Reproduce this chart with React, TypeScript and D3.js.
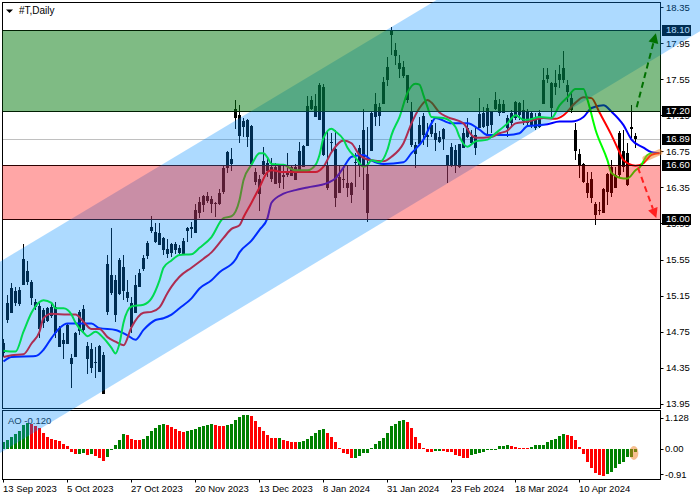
import { useEffect, useRef } from "react";
import * as d3 from "d3";

const opens = [
    14.52, 14.89, 14.97, 15.20, 15.07, 15.28, 15.42, 15.30, 15.03, 14.79,
    14.99, 14.88, 14.93, 15.02, 14.59, 14.62, 14.62, 14.40, 14.48, 14.77,
    15.00, 14.59, 14.56, 14.41, 14.31, 14.49, 15.50, 15.19, 15.32, 15.18,
    15.47, 15.19, 15.07, 14.97, 15.26, 15.46, 15.60, 15.91, 15.86, 15.72,
    15.79, 15.67, 15.72, 15.72, 15.68, 15.62, 15.90, 15.91, 15.86, 16.08,
    16.25, 16.25, 16.18, 16.18, 16.18, 16.31, 16.58, 16.62, 17.13, 17.15,
    17.03, 17.10, 17.03, 16.52, 16.29, 16.51, 16.54, 16.58, 16.40, 16.60,
    16.49, 16.50, 16.49, 16.44, 16.52, 16.59, 16.82, 17.32, 17.25, 17.11,
    17.46, 16.60, 16.85, 16.78, 16.30, 16.44, 16.35, 16.28, 16.63, 16.60,
    16.99, 16.50, 16.77, 17.14, 17.15, 17.29, 17.55, 18.08, 17.87, 17.67,
    17.69, 17.60, 17.19, 16.73, 16.84, 17.14, 16.93, 16.95, 16.89, 16.86,
    16.90, 16.71, 16.60, 16.77, 16.59, 16.80, 17.01, 16.85, 16.93, 17.02,
    17.03, 17.23, 17.05, 17.23, 17.27, 17.27, 17.12, 17.08, 17.13, 17.29,
    17.21, 17.08, 17.18, 17.12, 17.03, 17.29, 17.56, 17.24, 17.47, 17.55,
    17.67, 17.49, 17.34, 16.99, 16.72, 16.61, 16.40, 16.44, 16.17, 16.10,
    16.08, 16.31, 16.58, 16.35, 16.95, 16.75, 16.39, 17.02, 16.92,
];
const highs = [
    14.67, 15.16, 15.29, 15.25, 15.25, 15.72, 15.53, 15.32, 15.11, 15.07,
    15.01, 15.02, 15.07, 15.08, 14.81, 14.74, 14.85, 14.50, 14.75, 14.99,
    15.05, 14.64, 14.62, 14.58, 14.60, 14.53, 15.60, 15.90, 15.38, 15.57,
    15.60, 15.32, 15.13, 15.38, 15.45, 15.60, 15.76, 16.03, 15.96, 15.96,
    15.80, 15.78, 15.73, 15.74, 15.71, 15.79, 15.91, 15.97, 16.17, 16.24,
    16.27, 16.30, 16.25, 16.19, 16.33, 16.60, 16.75, 16.79, 17.32, 17.26,
    17.12, 17.11, 17.04, 16.57, 16.49, 16.80, 16.69, 16.68, 16.62, 16.61,
    16.61, 16.73, 16.60, 16.61, 16.85, 16.82, 17.36, 17.36, 17.39, 17.51,
    17.50, 16.99, 16.95, 16.99, 16.60, 16.60, 16.60, 16.41, 16.73, 16.82,
    17.22, 17.02, 17.19, 17.40, 17.29, 17.57, 17.80, 18.13, 17.95, 17.82,
    17.75, 17.60, 17.30, 16.85, 17.13, 17.18, 17.06, 17.10, 17.06, 16.97,
    17.01, 16.71, 16.84, 16.82, 16.83, 17.01, 17.12, 16.99, 17.01, 17.34,
    17.24, 17.27, 17.19, 17.41, 17.33, 17.32, 17.15, 17.21, 17.31, 17.30,
    17.32, 17.22, 17.19, 17.18, 17.21, 17.67, 17.67, 17.52, 17.65, 17.71,
    17.86, 17.54, 17.40, 17.06, 16.78, 16.62, 16.52, 16.52, 16.19, 16.19,
    16.34, 16.51, 16.65, 16.58, 16.97, 16.99, 16.84, 17.26, 16.95,
];
const lows = [
    14.47, 14.85, 14.96, 15.03, 15.03, 15.27, 15.27, 15.05, 14.99, 14.68,
    14.79, 14.86, 14.90, 14.68, 14.58, 14.45, 14.62, 14.13, 14.47, 14.71,
    14.74, 14.28, 14.29, 14.24, 14.30, 14.06, 14.94, 15.16, 14.86, 15.16,
    15.10, 15.08, 14.74, 14.96, 15.25, 15.42, 15.56, 15.84, 15.73, 15.71,
    15.60, 15.57, 15.58, 15.61, 15.60, 15.61, 15.74, 15.79, 15.84, 16.01,
    16.08, 16.18, 16.07, 16.02, 16.15, 16.28, 16.51, 16.53, 17.00, 16.84,
    16.91, 16.80, 16.60, 16.38, 16.09, 16.49, 16.47, 16.41, 16.39, 16.34,
    16.33, 16.47, 16.48, 16.43, 16.51, 16.59, 16.81, 17.21, 17.13, 17.10,
    16.70, 16.32, 16.73, 16.13, 16.29, 16.34, 16.24, 16.18, 16.35, 16.47,
    16.32, 15.97, 16.75, 17.03, 17.03, 17.29, 17.47, 17.82, 17.71, 17.56,
    17.56, 17.29, 16.80, 16.57, 16.83, 16.82, 16.80, 16.91, 16.75, 16.84,
    16.77, 16.40, 16.58, 16.51, 16.57, 16.80, 16.90, 16.82, 16.71, 17.01,
    17.01, 16.93, 16.95, 17.21, 17.14, 17.17, 16.91, 17.02, 17.10, 17.10,
    17.04, 17.02, 17.01, 16.99, 17.01, 17.28, 17.51, 17.13, 17.37, 17.45,
    17.51, 17.30, 17.17, 16.65, 16.45, 16.40, 16.23, 16.18, 15.93, 16.04,
    16.07, 16.15, 16.24, 16.35, 16.47, 16.52, 16.37, 16.90, 16.79,
];
const closes = [
    14.62, 15.07, 15.24, 15.07, 15.21, 15.56, 15.30, 15.12, 15.08, 15.03,
    14.85, 15.01, 15.02, 14.74, 14.79, 14.66, 14.82, 14.46, 14.74, 14.97,
    14.77, 14.45, 14.35, 14.40, 14.59, 14.06, 14.97, 15.38, 14.93, 15.54,
    15.20, 15.12, 14.80, 15.27, 15.40, 15.57, 15.73, 15.87, 15.74, 15.84,
    15.66, 15.61, 15.62, 15.66, 15.62, 15.76, 15.87, 15.89, 16.10, 16.19,
    16.15, 16.20, 16.22, 16.17, 16.29, 16.57, 16.74, 16.66, 17.22, 16.92,
    17.09, 16.91, 16.61, 16.41, 16.44, 16.64, 16.62, 16.44, 16.58, 16.40,
    16.47, 16.52, 16.58, 16.58, 16.75, 16.81, 17.25, 17.22, 17.13, 17.49,
    16.71, 16.34, 16.84, 16.23, 16.47, 16.43, 16.40, 16.40, 16.62, 16.79,
    16.58, 16.07, 17.18, 17.28, 17.24, 17.52, 17.69, 18.04, 17.81, 17.73,
    17.59, 17.32, 16.82, 16.82, 17.04, 16.93, 16.91, 17.04, 16.95, 16.91,
    17.00, 16.59, 16.80, 16.60, 16.83, 16.95, 16.91, 16.91, 16.79, 17.16,
    17.18, 17.03, 17.19, 17.32, 17.17, 17.17, 17.01, 17.18, 17.30, 17.15,
    17.09, 17.19, 17.04, 17.01, 17.18, 17.54, 17.60, 17.51, 17.51, 17.61,
    17.54, 17.41, 17.21, 16.75, 16.59, 16.41, 16.29, 16.23, 16.04, 16.09,
    16.33, 16.50, 16.29, 16.49, 16.49, 16.58, 16.73, 17.00, 16.89,
];

const lips: [number, number][] = [
    [0, 14.54], [3, 14.53], [5, 14.75], [7, 14.96], [9, 15.08], [10, 15.10], [12, 15.07], [13, 15.01], [15, 15.01],
    [17, 14.94], [18, 14.85], [20, 14.74], [21, 14.70], [23, 14.75], [25, 14.68], [27, 14.57], [28, 14.51], [29, 14.62],
    [30, 14.85], [32, 15.03], [35, 15.05], [37, 15.12], [39, 15.32], [40, 15.46], [42, 15.54], [44, 15.60], [47, 15.61],
    [49, 15.68], [52, 15.80], [55, 16.01], [57, 16.03], [59, 16.21], [60, 16.43], [62, 16.60], [64, 16.73], [65, 16.73],
    [66, 16.68], [67, 16.61], [70, 16.60], [73, 16.54], [76, 16.54], [78, 16.60], [79, 16.71], [80, 16.90], [82, 17.00],
    [83, 16.97], [85, 16.88], [86, 16.79], [88, 16.68], [90, 16.58], [91, 16.60], [92, 16.65], [94, 16.63], [96, 16.77],
    [97, 16.93], [99, 17.13], [101, 17.40], [103, 17.50], [104, 17.49], [105, 17.37], [106, 17.24], [107, 17.13], [110, 17.12],
    [113, 17.02], [114, 16.91], [116, 16.80], [118, 16.86], [121, 16.88], [123, 16.95], [126, 17.06], [128, 17.15], [130, 17.10],
    [131, 17.10], [134, 17.13], [137, 17.12], [139, 17.26], [141, 17.35], [143, 17.44], [145, 17.44], [146, 17.32], [148, 16.99],
    [151, 16.65], [152, 16.51], [155, 16.45], [156, 16.45], [158, 16.54], [159, 16.57], [161, 16.71], [162, 16.73],
];
const teeth: [number, number][] = [
    [0, 14.47], [2, 14.49], [5, 14.50], [7, 14.62], [9, 14.75], [10, 14.90], [12, 14.95], [16, 14.94], [18, 14.94],
    [20, 14.86], [22, 14.78], [24, 14.78], [26, 14.69], [28, 14.64], [30, 14.60], [32, 14.80], [35, 14.96], [37, 14.97],
    [39, 15.02], [41, 15.18], [42, 15.25], [44, 15.36], [47, 15.46], [50, 15.56], [52, 15.63], [55, 15.79], [57, 15.89],
    [59, 15.93], [60, 16.02], [62, 16.18], [64, 16.35], [66, 16.52], [67, 16.54], [70, 16.52], [73, 16.52], [78, 16.52],
    [80, 16.58], [82, 16.74], [85, 16.87], [87, 16.84], [89, 16.71], [92, 16.65], [95, 16.64], [97, 16.69], [100, 16.84],
    [102, 17.06], [104, 17.23], [106, 17.32], [107, 17.29], [109, 17.18], [111, 17.13], [115, 17.06], [117, 16.93], [118, 16.90],
    [122, 16.91], [124, 16.95], [126, 16.98], [128, 17.06], [131, 17.08], [135, 17.12], [138, 17.11], [140, 17.15], [143, 17.29],
    [145, 17.35], [147, 17.34], [149, 17.18], [152, 16.93], [154, 16.74], [155, 16.65], [158, 16.59], [160, 16.62], [162, 16.71],
    [164, 16.73],
];
const jaw: [number, number][] = [
    [0, 14.42], [2, 14.47], [8, 14.48], [10, 14.55], [12, 14.68], [14, 14.79], [16, 14.84], [19, 14.84], [22, 14.84],
    [24, 14.79], [28, 14.77], [31, 14.71], [33, 14.66], [35, 14.77], [38, 14.88], [40, 14.90], [42, 14.94], [44, 15.01],
    [47, 15.12], [49, 15.23], [52, 15.32], [54, 15.41], [58, 15.55], [59, 15.63], [62, 15.76], [64, 15.88], [66, 16.01],
    [67, 16.18], [70, 16.28], [73, 16.32], [76, 16.35], [81, 16.40], [83, 16.45], [85, 16.57], [87, 16.69], [90, 16.71],
    [92, 16.65], [95, 16.61], [100, 16.63], [102, 16.73], [105, 16.88], [107, 17.06], [108, 17.12], [112, 17.06], [116, 17.06],
    [119, 16.99], [121, 16.93], [126, 16.93], [129, 16.95], [131, 17.03], [136, 17.05], [139, 17.08], [142, 17.08], [145, 17.13],
    [147, 17.23], [150, 17.26], [152, 17.19], [155, 17.04], [157, 16.88], [160, 16.79], [162, 16.74], [164, 16.73],
];

const aoValues = [
    0.26, 0.31, 0.43, 0.52, 0.64, 0.86, 0.93, 0.89, 0.82, 0.75,
    0.57, 0.43, 0.36, 0.33, 0.30, 0.18, 0.10, -0.12, -0.19, -0.17,
    -0.16, -0.21, -0.18, -0.25, -0.31, -0.43, -0.30, -0.04, 0.14, 0.32,
    0.53, 0.50, 0.36, 0.33, 0.32, 0.36, 0.48, 0.64, 0.74, 0.86,
    0.89, 0.86, 0.78, 0.71, 0.64, 0.61, 0.64, 0.68, 0.71, 0.78,
    0.81, 0.86, 0.89, 0.86, 0.83, 0.82, 0.86, 0.89, 1.03, 1.14,
    1.20, 1.21, 1.18, 1.00, 0.78, 0.64, 0.50, 0.39, 0.38, 0.39,
    0.32, 0.29, 0.26, 0.24, 0.25, 0.29, 0.36, 0.46, 0.57, 0.68,
    0.71, 0.57, 0.43, 0.25, 0.02, -0.14, -0.19, -0.32, -0.31, -0.25,
    -0.15, -0.14, 0.02, 0.17, 0.29, 0.39, 0.59, 0.82, 0.89, 1.00,
    1.03, 0.96, 0.74, 0.43, 0.21, 0.04, -0.10, -0.11, -0.07, -0.065,
    -0.08, -0.09, -0.12, -0.21, -0.25, -0.32, -0.33, -0.21, -0.18, -0.15,
    -0.11, -0.05, -0.03, -0.02, 0.10, 0.11, 0.14, 0.10, 0.07, 0.05,
    0.04, 0.02, 0.07, 0.13, 0.14, 0.15, 0.24, 0.31, 0.36, 0.45,
    0.52, 0.50, 0.46, 0.32, 0.07, -0.19, -0.45, -0.69, -0.87, -0.93,
    -0.95, -0.90, -0.83, -0.67, -0.53, -0.45, -0.30, -0.27, -0.12,
];

const priceTicks = [18.35, 17.95, 17.55, 17.15, 16.75, 16.35, 15.95, 15.55, 15.15, 14.75, 14.35, 13.95];
const aoTicks = [1.128, 0, -0.91];
const aoTickLabels = ["1.128", "0.00", "-0.91"];
const levelPrices = [18.1, 17.2, 16.6, 16.0];
const lastPrice = 16.89;
const dateLabels = [
    "13 Sep 2023", "5 Oct 2023", "27 Oct 2023", "20 Nov 2023", "13 Dec 2023",
    "8 Jan 2024", "31 Jan 2024", "23 Feb 2024", "18 Mar 2024", "10 Apr 2024",
];

const FONT = "'Liberation Sans', sans-serif";

const App = () => {
    const svgRef = useRef<SVGSVGElement>(null);

    useEffect(() => {
        if (!svgRef.current) return;
        const svg = d3.select(svgRef.current);
        svg.selectAll("*").remove();

        const left = 2.5, right = 660.5, top = 2.5, mainBottom = 408.5, aoTop = 410.5, aoBottom = 479.5;

        const x = d3.scaleLinear().domain([0, 158]).range([3.5, 635.5]);
        const y = d3.scaleLinear().domain([18.35, 13.95]).range([7, 403.9]);
        const yAo = d3.scaleLinear().domain([1.128, -0.91]).range([417.5, 474.4]);
        const px = (v: number) => Math.round(v) + 0.5;

        const defs = svg.append("defs");
        defs.append("clipPath").attr("id", "mainClip").append("rect")
            .attr("x", left).attr("y", top).attr("width", right - left).attr("height", mainBottom - top);

        // last price line
        svg.append("line")
            .attr("x1", left).attr("x2", right)
            .attr("y1", px(y(lastPrice))).attr("y2", px(y(lastPrice)))
            .attr("stroke", "#c0c0c0");

        // candles
        const candles = svg.append("g").selectAll("g")
            .data(opens.map((o, i) => ({ i, o, h: highs[i], l: lows[i], c: closes[i] })))
            .enter().append("g");

        candles.append("line")
            .attr("x1", d => x(d.i)).attr("x2", d => x(d.i))
            .attr("y1", d => Math.round(y(d.h))).attr("y2", d => Math.round(y(d.l)))
            .attr("stroke", "#000");

        candles.append("rect")
            .attr("x", d => (d.c >= d.o ? x(d.i) - 1 : x(d.i) - 1.5))
            .attr("y", d => (d.c >= d.o ? px(y(d.c)) : Math.round(y(d.o))))
            .attr("width", d => (d.c >= d.o ? 2 : 3))
            .attr("height", d => (d.c >= d.o
                ? Math.max(1, px(y(d.o)) - px(y(d.c)))
                : Math.max(1, Math.round(y(d.c)) - Math.round(y(d.o)))))
            .attr("fill", d => (d.c >= d.o ? "none" : "#000"))
            .attr("stroke", d => (d.c >= d.o ? "#000" : "none"));

        // alligator
        const line = d3.line<[number, number]>()
            .x(d => x(d[0]))
            .y(d => y(d[1]))
            .curve(d3.curveMonotoneX);

        const lines = svg.append("g").attr("clip-path", "url(#mainClip)");
        ([[jaw, "#0000ff"], [teeth, "#ff0000"], [lips, "#00ff00"]] as [[number, number][], string][]).forEach(([pts, color]) => {
            lines.append("path")
                .datum(pts)
                .attr("fill", "none")
                .attr("stroke", color)
                .attr("stroke-width", 2)
                .attr("d", line);
        });

        // AO histogram
        svg.append("g").selectAll("rect")
            .data(aoValues)
            .enter().append("rect")
            .attr("x", (_, i) => x(i) - 1.5)
            .attr("width", 3)
            .attr("y", d => Math.round(Math.min(yAo(d), yAo(0))))
            .attr("height", d => Math.max(1, Math.round(Math.abs(yAo(d) - yAo(0)))))
            .attr("fill", (d, i) => (i === 0 || d > aoValues[i - 1] ? "#008000" : "#ff0000"));

        // level lines
        svg.append("g").selectAll("line")
            .data(levelPrices)
            .enter().append("line")
            .attr("x1", left).attr("x2", right)
            .attr("y1", d => px(y(d))).attr("y2", d => px(y(d)))
            .attr("stroke", "#000");

        // panes
        svg.append("rect").attr("x", left).attr("y", top).attr("width", right - left).attr("height", mainBottom - top)
            .attr("fill", "none").attr("stroke", "#000");
        svg.append("rect").attr("x", left).attr("y", aoTop).attr("width", right - left).attr("height", aoBottom - aoTop)
            .attr("fill", "none").attr("stroke", "#000");

        // price axis
        const text = (sel: d3.Selection<any, any, any, any>) =>
            sel.attr("font-family", FONT).attr("font-size", 9.5).attr("fill", "#000");

        const priceAxis = svg.append("g");
        priceAxis.selectAll("line")
            .data(priceTicks)
            .enter().append("line")
            .attr("x1", right).attr("x2", right + 3)
            .attr("y1", d => px(y(d))).attr("y2", d => px(y(d)))
            .attr("stroke", "#000");
        priceAxis.selectAll("text")
            .data(priceTicks)
            .enter().append("text")
            .call(text)
            .attr("x", 666)
            .attr("y", d => y(d) + 3.5)
            .text(d => d.toFixed(2));

        const aoAxis = svg.append("g");
        aoAxis.selectAll("line")
            .data(aoTicks)
            .enter().append("line")
            .attr("x1", right).attr("x2", right + 3)
            .attr("y1", d => px(yAo(d))).attr("y2", d => px(yAo(d)))
            .attr("stroke", "#000");
        aoAxis.selectAll("text")
            .data(aoTicks)
            .enter().append("text")
            .call(text)
            .attr("x", 665)
            .attr("y", d => yAo(d) + 3.5)
            .text((_, i) => aoTickLabels[i]);

        // date axis, one label every 16 bars
        const dateAxis = svg.append("g").selectAll("g")
            .data(dateLabels)
            .enter().append("g");
        dateAxis.append("line")
            .attr("x1", (_, i) => Math.floor(x(i * 16)) + 0.5).attr("x2", (_, i) => Math.floor(x(i * 16)) + 0.5)
            .attr("y1", aoBottom).attr("y2", aoBottom + 3)
            .attr("stroke", "#000");
        dateAxis.append("text")
            .call(text)
            .attr("x", (_, i) => x(i * 16) - 0.5)
            .attr("y", 492)
            .text(d => d);

        // level tags
        const tags = svg.append("g").selectAll("g")
            .data([...levelPrices, lastPrice])
            .enter().append("g");
        tags.append("rect")
            .attr("x", 662).attr("width", 29)
            .attr("y", d => px(y(d)) - 5.5).attr("height", 11)
            .attr("fill", "#000");
        tags.append("text")
            .call(text)
            .attr("fill", "#fff")
            .attr("x", 666)
            .attr("y", d => y(d) + 3.5)
            .text(d => d.toFixed(2));

        // title and AO label
        svg.append("path")
            .attr("d", d3.line()([[6, 9.5], [13, 9.5], [9.5, 13]]) + "Z")
            .attr("fill", "#000");
        svg.append("text").call(text).attr("font-size", 10).attr("x", 19).attr("y", 14).text("#T,Daily");
        svg.append("text").call(text).attr("x", 8).attr("y", 424).attr("fill", "#222").text("AO -0.120");

        // channel and zones sit over everything drawn so far
        const upper = d3.scaleLinear().domain([0, 158]).range([15.55, 19.75]);
        const lower = d3.scaleLinear().domain([0, 158]).range([13.43, 17.65]);
        const channelBars = [-1, 175];
        svg.append("path")
            .attr("d", d3.line()([
                [x(channelBars[0]), y(upper(channelBars[0]))],
                [x(channelBars[1]), y(upper(channelBars[1]))],
                [x(channelBars[1]), y(lower(channelBars[1]))],
                [x(channelBars[0]), y(lower(channelBars[0]))],
            ]) + "Z")
            .attr("fill", "rgb(0,140,255)")
            .attr("fill-opacity", 0.32);

        svg.append("rect")
            .attr("x", left).attr("width", right - left)
            .attr("y", px(y(18.1))).attr("height", px(y(17.2)) - px(y(18.1)))
            .attr("fill", "rgb(0,120,10)").attr("fill-opacity", 0.5);
        svg.append("rect")
            .attr("x", left).attr("width", right - left)
            .attr("y", px(y(16.6))).attr("height", px(y(16.0)) - px(y(16.6)))
            .attr("fill", "#ff0000").attr("fill-opacity", 0.35);

        // forecast arrows
        const arrow = (from: [number, number], to: [number, number], color: string) => {
            const x1 = x(from[0]), y1 = y(from[1]), x2 = x(to[0]), y2 = y(to[1]);
            const angle = Math.atan2(y2 - y1, x2 - x1);
            const headLen = 10, headHalf = 5;
            const bx = x2 - headLen * Math.cos(angle), by = y2 - headLen * Math.sin(angle);
            svg.append("line")
                .attr("x1", x1).attr("y1", y1).attr("x2", bx).attr("y2", by)
                .attr("stroke", color).attr("stroke-width", 2).attr("stroke-dasharray", "6,4");
            svg.append("path")
                .attr("d", d3.line()([
                    [x2, y2],
                    [bx - headHalf * Math.sin(angle), by + headHalf * Math.cos(angle)],
                    [bx + headHalf * Math.sin(angle), by - headHalf * Math.cos(angle)],
                ]) + "Z")
                .attr("fill", color);
        };
        arrow([158.3, 17.24], [163.1, 18.06], "#007000");
        arrow([158.6, 16.57], [163.2, 16.01], "#ff2020");

        // highlights on the latest values
        svg.append("path")
            .attr("d", d3.line()([[x(160.5), y(16.67)], [x(164), y(16.74)]]))
            .attr("stroke", "#f08020").attr("stroke-opacity", 0.5).attr("stroke-width", 6).attr("stroke-linecap", "round");
        svg.append("ellipse")
            .attr("cx", x(157.6)).attr("cy", yAo(-0.14)).attr("rx", 4.5).attr("ry", 7)
            .attr("fill", "#f08020").attr("fill-opacity", 0.5);
    }, []);

    return <svg ref={svgRef} width={700} height={500} style={{ position: "absolute", left: 0, top: 0, background: "#fff" }} />;
};

export default App;
